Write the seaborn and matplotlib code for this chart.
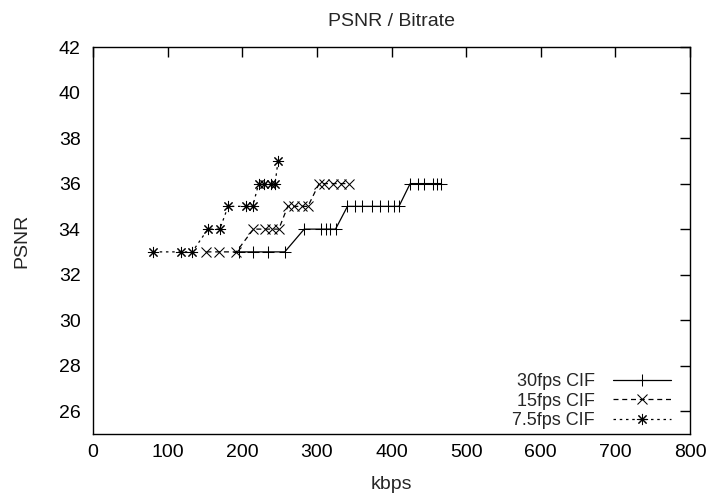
import matplotlib
matplotlib.use("Agg")
import matplotlib.pyplot as plt
import seaborn as sns
import pandas as pd

sns.set_style("white")
plt.rcParams['font.family'] = ['Liberation Sans', 'DejaVu Sans']

title = "PSNR / Bitrate"
labels = ["30fps CIF", "15fps CIF", "7.5fps CIF"]

kbps_30 = [195, 215, 235, 257, 283, 305, 312, 318, 325, 341, 351, 360, 374, 384, 395, 403, 410, 425, 436, 443, 456, 461, 467]
psnr_30 = [33, 33, 33, 33, 34, 34, 34, 34, 34, 35, 35, 35, 35, 35, 35, 35, 35, 36, 36, 36, 36, 36, 36]

kbps_15 = [152, 169, 192, 215, 231, 240, 249, 261, 270, 280, 288, 303, 309, 321, 332, 343]
psnr_15 = [33, 33, 33, 34, 34, 34, 34, 35, 35, 35, 35, 36, 36, 36, 36, 36]

kbps_75 = [81, 118, 133, 154, 170, 181, 205, 214, 222, 229, 238, 244, 248]
psnr_75 = [33, 33, 33, 34, 34, 35, 35, 35, 36, 36, 36, 36, 37]

xticks = [0, 100, 200, 300, 400, 500, 600, 700, 800]
yticks = [26, 28, 30, 32, 34, 36, 38, 40, 42]

fig = plt.figure(figsize=(7.13, 5.0), dpi=100)
ax = fig.add_axes([93/713, 1-434/500, (690-93)/713, (434-47)/500])

series = [
    (kbps_30, psnr_30, labels[0], '-', '+', 9),
    (kbps_15, psnr_15, labels[1], (0, (4, 3)), 'x', 6.5),
    (kbps_75, psnr_75, labels[2], (0, (2, 3)), (8, 2, 0), 8),
]
for xs, ys, lab, ls, mk, ms in series:
    df = pd.DataFrame({"kbps": xs, "PSNR": ys})
    sns.lineplot(data=df, x="kbps", y="PSNR", ax=ax, color="black", linewidth=0.9,
                 linestyle=ls, marker=mk, markersize=ms, markeredgewidth=0.75,
                 markeredgecolor="black", label=lab, sort=False, estimator=None)

ax.set_xlim(0, 800)
ax.set_ylim(25, 42)
ax.set_xticks(xticks)
ax.set_yticks(yticks)
ax.set_xlabel("kbps", fontsize=14, labelpad=11)
ax.set_ylabel("PSNR", fontsize=14, labelpad=20)
ax.set_title(title, fontsize=14, pad=15)
ax.tick_params(direction='in', length=7, width=1, top=True, right=True,
               labelsize=14, labeltop=False, labelright=False, colors='black')
ax.tick_params(axis='y', pad=9)
ax.tick_params(axis='x', pad=7)
for s in ax.spines.values():
    s.set_color('black')
    s.set_linewidth(1.0)

leg = ax.legend(loc='lower right', bbox_to_anchor=(0.975, 0.0), frameon=False,
                markerfirst=False, fontsize=13, handlelength=3.2, handletextpad=1.0,
                labelspacing=0.15, borderaxespad=0.0, borderpad=0.25)
for t in leg.get_texts():
    t.set_ha('right')

fig.savefig("out.png", dpi=100)
